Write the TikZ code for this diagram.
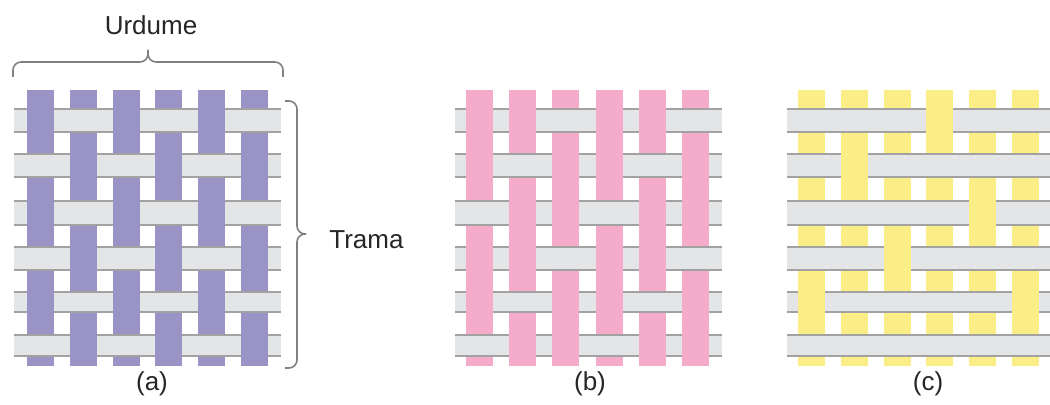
\documentclass[tikz,border=0pt]{standalone}
\usepackage{fontspec}
\setmainfont{Liberation Sans}
\usetikzlibrary{positioning}

\definecolor{warpa}{RGB}{154,148,198}
\definecolor{warpb}{RGB}{245,172,203}
\definecolor{warpc}{RGB}{252,238,134}
\definecolor{weftgray}{RGB}{228,229,231}
\definecolor{edgegray}{RGB}{162,162,162}
\definecolor{bracegray}{RGB}{128,128,128}

% one cloth: first warp x, warp pitch, weft left, weft right, colour, test "warp over weft"
\newcommand{\weavecloth}[6]{%
  \foreach \w in {1,...,6}{
    \pgfmathsetmacro\xa{#1+(\w-1)*#2}
    \fill[#5] (\xa,90) rectangle ++(27,276);
  }
  \foreach \r/\yt/\yb in {1/109/132,2/154/177,3/201/225,4/247/270,5/292/312,6/335/356}{
    \fill[weft] (#3,\yt) rectangle (#4,\yb);
    \draw[weftedge] (#3,\yt) -- (#4,\yt) (#3,\yb) -- (#4,\yb);
    \foreach \w in {1,...,6}{
      \pgfmathtruncatemacro\isover{#6}
      \ifnum\isover=1
        \pgfmathsetmacro\xa{#1+(\w-1)*#2}
        \fill[#5] (\xa,\yt-1.5) rectangle (\xa+27,\yb+1.5);
      \fi
    }
  }
}

\begin{document}
\begin{tikzpicture}[x=0.5pt,y=-0.5pt,
    lbl/.style={font=\fontsize{13}{15}\selectfont,text=black!85,inner sep=0pt},
    weft/.style={fill=weftgray},
    weftedge/.style={draw=edgegray,line width=0.9pt},
    bracket/.style={draw=bracegray,line width=0.8pt,rounded corners=4}]
                \useasboundingbox (0,0) rectangle (1050,405);
                % (a) plain, (b) twill, (c) satin
                \weavecloth{27}{42.8}{14}{281}{warpa}{mod(\r+\w,2)==0}
                \weavecloth{466}{43.2}{455}{722}{warpb}{mod(\r+\w,3)!=1}
                \weavecloth{798}{42.8}{787}{1050}{warpc}{(\r==1&&\w==4)||(\r==2&&\w==2)||(\r==3&&\w==5)||(\r==4&&\w==3)||(\r==5&&(\w==1||\w==6))}
                \node[lbl](Urdume)at(151, 25){Urdume};
                \node[lbl,anchor=west](Trama)at(329, 240){Trama};
                \node[lbl](a)at(152, 384){(a)};
                \node[lbl](b)at(590, 384){(b)};
                \node[lbl](c)at(928, 384){(c)};
                \coordinate(uL)at(13, 77);
                \coordinate(uM)at(148, 62);
                \coordinate(uT)at(148, 50);
                \coordinate(uR)at(283, 77);
                \coordinate(tT)at(285, 101);
                \coordinate(tM)at(297, 234);
                \coordinate(tR)at(306, 234);
                \coordinate(tB)at(285, 368);
                \draw[bracket](uL) |- (uM) -- (uT);
                \draw[bracket](uT) -- (uM) -| (uR);
                \draw[bracket](tT) -| (tM) -- (tR);
                \draw[bracket](tR) -- (tM) |- (tB);
            \end{tikzpicture}
\end{document}
